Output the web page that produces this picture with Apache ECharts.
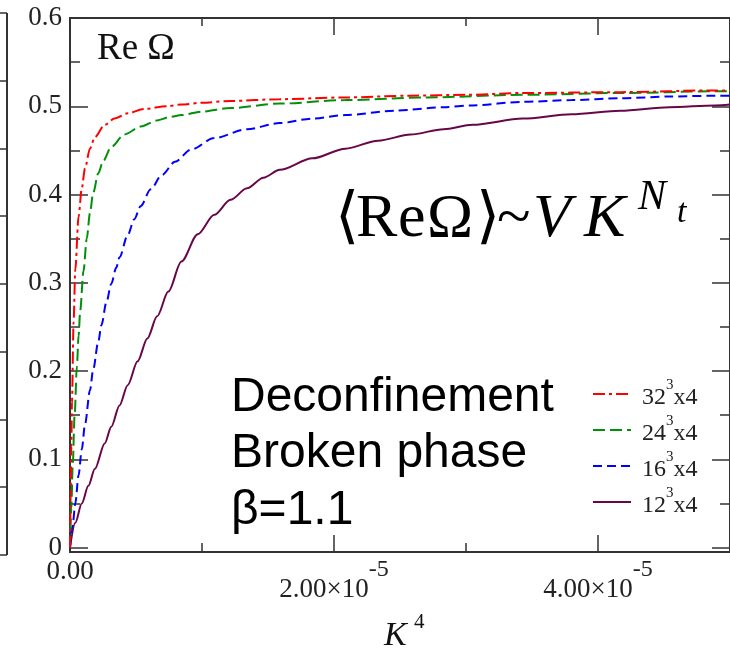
<!DOCTYPE html>
<html>
<head>
<meta charset="utf-8">
<script src="https://cdn.jsdelivr.net/npm/echarts@6/dist/echarts.min.js"></script>
<style>
  html, body { margin: 0; padding: 0; background: #fff; }
  #chart { width: 730px; height: 654px; }
</style>
</head>
<body>
<div id="chart"></div>
<script>
// K^4 abscissae are given in units of 1e-5; ordinates are <Re Omega>.
const k4_32 = [0, 0.005, 0.010, 0.015, 0.027, 0.040, 0.065, 0.089, 0.114, 0.151, 0.188, 0.263, 0.337, 0.437, 0.561, 0.735, 0.844, 1.000, 1.216, 1.589, 2.086, 2.580, 3.000, 3.430, 4.170, 4.890, 5.000];
const re_32 = [0, 0.060, 0.115, 0.165, 0.255, 0.315, 0.375, 0.407, 0.430, 0.452, 0.465, 0.479, 0.486, 0.492, 0.497, 0.500, 0.502, 0.504, 0.506, 0.508, 0.510, 0.512, 0.513, 0.515, 0.516, 0.518, 0.518];

const k4_24 = [0, 0.010, 0.020, 0.035, 0.052, 0.065, 0.077, 0.102, 0.127, 0.151, 0.176, 0.214, 0.251, 0.313, 0.412, 0.536, 0.660, 0.760, 0.844, 1.000, 1.216, 1.589, 2.086, 2.700, 3.430, 4.170, 4.890, 5.000];
const re_24 = [0, 0.045, 0.090, 0.150, 0.205, 0.240, 0.268, 0.313, 0.350, 0.379, 0.402, 0.424, 0.438, 0.454, 0.468, 0.477, 0.484, 0.488, 0.490, 0.494, 0.498, 0.503, 0.507, 0.510, 0.513, 0.515, 0.517, 0.517];

const k4_16 = [0, 0.020, 0.040, 0.065, 0.089, 0.114, 0.151, 0.176, 0.214, 0.238, 0.276, 0.313, 0.350, 0.375, 0.437, 0.487, 0.536, 0.611, 0.695, 0.795, 0.918, 1.093, 1.341, 1.589, 1.837, 2.086, 2.458, 2.830, 3.050, 3.430, 3.800, 4.170, 4.540, 4.890, 5.000];
const re_16 = [0, 0.025, 0.050, 0.082, 0.111, 0.140, 0.178, 0.202, 0.233, 0.252, 0.278, 0.299, 0.317, 0.329, 0.354, 0.372, 0.387, 0.406, 0.422, 0.437, 0.451, 0.464, 0.474, 0.481, 0.486, 0.490, 0.495, 0.499, 0.501, 0.505, 0.507, 0.509, 0.511, 0.512, 0.512];

const k4_12 = [0, 0.040, 0.089, 0.139, 0.188, 0.263, 0.313, 0.375, 0.437, 0.512, 0.586, 0.660, 0.745, 0.844, 0.968, 1.093, 1.216, 1.341, 1.465, 1.589, 1.837, 2.086, 2.334, 2.580, 2.830, 3.050, 3.430, 3.800, 4.170, 4.540, 4.890, 5.000];
const re_12 = [0, 0.028, 0.050, 0.070, 0.089, 0.118, 0.137, 0.161, 0.184, 0.211, 0.237, 0.262, 0.290, 0.324, 0.355, 0.377, 0.394, 0.407, 0.419, 0.428, 0.441, 0.452, 0.461, 0.468, 0.474, 0.479, 0.486, 0.491, 0.495, 0.499, 0.501, 0.502];

// Lattice sizes: spatial extent (cubed) and temporal extent
const latticeL = [32, 24, 16, 12];
const latticeNt = 4;
const seriesNames = latticeL.map(l => l + '\u00B3x' + latticeNt);

// Axis ticks
const yMajor = [0, 0.1, 0.2, 0.3, 0.4, 0.5, 0.6];
const yMinor = [0.05, 0.15, 0.25, 0.35, 0.45, 0.55];
const xMajor = [0, 2e-5, 4e-5];
const xMinor = [1e-5, 3e-5, 5e-5];

const SERIF = '"Liberation Serif", "Times New Roman", serif';
const SANS = '"Liberation Sans", Arial, sans-serif';
const AXIS = '#333333';

function pairs(xs, ys) {
  return xs.map((x, i) => [x * 1e-5, ys[i]]);
}

function xAxisDef(pos, ticks, len, withLabels) {
  return {
    type: 'value', position: pos, min: 0, max: 5e-5,
    axisLine: { show: true, onZero: false, lineStyle: { color: AXIS, width: 2 } },
    axisTick: { show: true, inside: true, length: len, customValues: ticks, lineStyle: { color: AXIS, width: 1.5 } },
    axisLabel: withLabels ? {
      show: true, customValues: ticks, margin: 6, color: '#222',
      formatter: v => v === 0 ? '{z|0.00}' : '{b|' + (v / 1e-5).toFixed(2) + '\u00D710}{s|-5}',
      rich: {
        z: { fontFamily: SERIF, fontSize: 27, lineHeight: 27, color: '#222' },
        b: { fontFamily: SERIF, fontSize: 27, lineHeight: 45, verticalAlign: 'bottom', color: '#222' },
        s: { fontFamily: SERIF, fontSize: 24, lineHeight: 27, verticalAlign: 'top', color: '#222' }
      }
    } : { show: false },
    splitLine: { show: false }
  };
}

function yAxisDef(pos, ticks, len, withLabels) {
  return {
    type: 'value', position: pos, min: -0.005, max: 0.6,
    axisLine: { show: true, onZero: false, lineStyle: { color: AXIS, width: 2 } },
    axisTick: { show: true, inside: true, length: len, customValues: ticks, lineStyle: { color: AXIS, width: 1.5 } },
    axisLabel: withLabels ? {
      show: true, customValues: ticks, margin: 8, color: '#222',
      fontFamily: SERIF, fontSize: 27,
      formatter: v => v === 0 ? '0' : v.toFixed(1)
    } : { show: false },
    splitLine: { show: false }
  };
}

const lineDefs = [
  { name: seriesNames[0], xs: k4_32, ys: re_32, color: '#ff0000', dash: [12, 4, 3, 4] },
  { name: seriesNames[1], xs: k4_24, ys: re_24, color: '#00900a', dash: [12, 5] },
  { name: seriesNames[2], xs: k4_16, ys: re_16, color: '#0000ff', dash: [9, 5] },
  { name: seriesNames[3], xs: k4_12, ys: re_12, color: '#670748', dash: 'solid' }
];

const chart = echarts.init(document.getElementById('chart'), null, { renderer: 'canvas' });

// Frame of the neighbouring panel peeking in at the left edge
const leftFrameRows = [13, 81, 149, 216, 284, 352, 420, 487, 555];
const leftFrame = [{
  type: 'line', shape: { x1: 7, y1: 13, x2: 7, y2: 555 },
  style: { stroke: AXIS, lineWidth: 2 }
}].concat(leftFrameRows.map(y => ({
  type: 'line', shape: { x1: 0, y1: y, x2: 7, y2: y },
  style: { stroke: AXIS, lineWidth: 1.5 }
})));

chart.setOption({
  animation: false,
  backgroundColor: '#ffffff',
  grid: { left: 70, top: 18, width: 671, height: 534, containLabel: false },
  xAxis: [
    xAxisDef('bottom', xMajor, 17, true),
    xAxisDef('bottom', xMinor, 9, false),
    xAxisDef('top', xMajor, 17, false),
    xAxisDef('top', xMinor, 8, false)
  ],
  yAxis: [
    yAxisDef('left', yMajor, 18, true),
    yAxisDef('left', yMinor, 10, false),
    yAxisDef('right', yMajor, 18, false),
    yAxisDef('right', yMinor, 10, false)
  ],
  legend: {
    orient: 'vertical', left: 587, top: 373,
    itemWidth: 38, itemHeight: 14, itemGap: 4,
    data: seriesNames,
    itemStyle: { opacity: 0 },
    formatter: name => {
      const [l, rest] = name.split('\u00B3');
      return '{a|' + l + '}{s|3}{a|' + rest + '}';
    },
    textStyle: {
      fontFamily: SERIF, fontSize: 24, color: '#222', padding: [0, 0, 0, 6],
      rich: {
        a: { fontFamily: SERIF, fontSize: 24, lineHeight: 32, verticalAlign: 'bottom', color: '#222' },
        s: { fontFamily: SERIF, fontSize: 15, lineHeight: 32, verticalAlign: 'top', color: '#222' }
      }
    }
  },
  series: lineDefs.map((d, i) => ({
    type: 'line', name: d.name, xAxisIndex: 0, yAxisIndex: 0,
    data: pairs(d.xs, d.ys),
    symbol: 'none', showSymbol: false,
    smooth: 0.3, smoothMonotone: 'x',
    lineStyle: { color: d.color, width: 2, type: d.dash },
    itemStyle: { color: d.color },
    z: 10 - i
  })),
  graphic: leftFrame.concat([
    { type: 'text', x: 97, y: 49, style: { text: 'Re \u03A9', font: '37px ' + SERIF, fill: '#111', verticalAlign: 'middle' } },
    {
      type: 'text', x: 335, y: 220,
      style: {
        text: '{p|\u27E8}{r|R}{e|e}{o|\u03A9}{q|\u27E9}{t|~}{v|V}{k|K}',
        verticalAlign: 'middle', fill: '#000',
        rich: {
          p: { width: 21, font: '62px ' + SERIF },
          r: { width: 42, font: '62px ' + SERIF },
          e: { width: 29, font: '62px ' + SERIF },
          o: { width: 49, font: '62px ' + SERIF },
          q: { width: 21, font: '62px ' + SERIF },
          t: { width: 36, font: '62px ' + SERIF },
          v: { width: 51, font: 'italic 62px ' + SERIF },
          k: { width: 51, font: 'italic 62px ' + SERIF }
        }
      }
    },
    { type: 'text', x: 638, y: 198, style: { text: 'N', font: 'italic 42px ' + SERIF, fill: '#000', verticalAlign: 'middle' } },
    { type: 'text', x: 677, y: 213, style: { text: 't', font: 'italic 34px ' + SERIF, fill: '#000', verticalAlign: 'middle' } },
    { type: 'text', x: 231, y: 398, style: { text: 'Deconfinement', font: '48px ' + SANS, fill: '#000', verticalAlign: 'middle' } },
    { type: 'text', x: 231, y: 454, style: { text: 'Broken phase', font: '48px ' + SANS, fill: '#000', verticalAlign: 'middle' } },
    { type: 'text', x: 231, y: 511, style: { text: '\u03B2=1.1', font: '48px ' + SANS, fill: '#000', verticalAlign: 'middle' } },
    { type: 'text', x: 384, y: 636, style: { text: 'K', font: 'italic 34px ' + SERIF, fill: '#111', verticalAlign: 'middle' } },
    { type: 'text', x: 414, y: 622, style: { text: '4', font: '21px ' + SERIF, fill: '#111', verticalAlign: 'middle' } }
  ])
});
</script>
</body>
</html>
